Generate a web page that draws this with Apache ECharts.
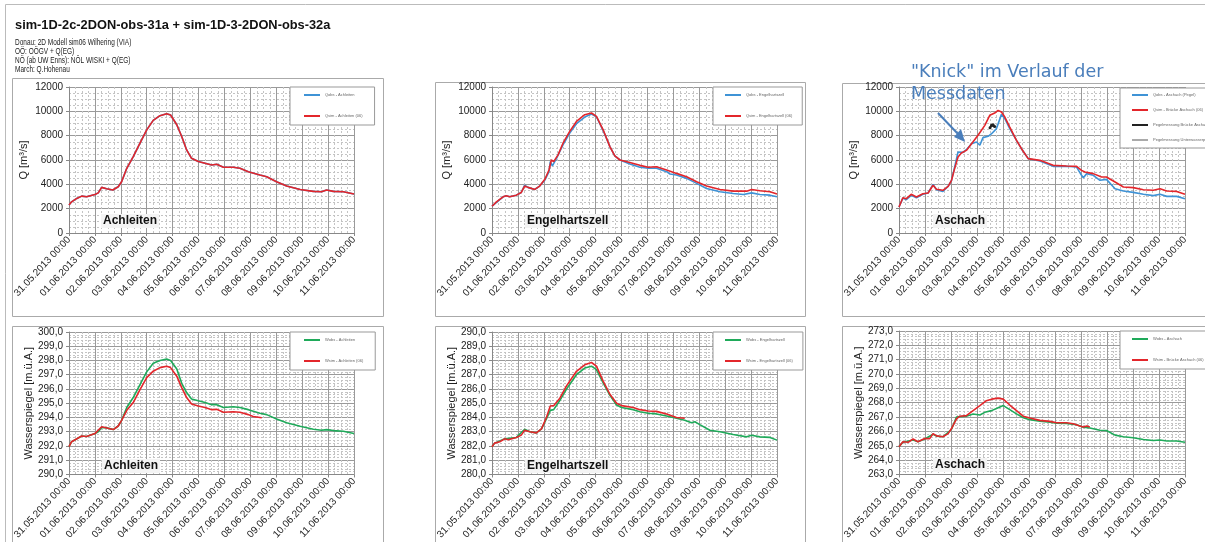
<!DOCTYPE html>
<html><head><meta charset="utf-8">
<script src="https://cdn.jsdelivr.net/npm/echarts@6/dist/echarts.min.js"></script>
<style>html,body{margin:0;padding:0;background:#fff}#c{width:1205px;height:542px}</style>
</head><body><div id="c"></div><script>
const titleText = 'sim-1D-2c-2DON-obs-31a + sim-1D-3-2DON-obs-32a';
const subtitleLines = ['Donau: 2D Modell sim06 Wilhering (VIA)','OÖ: OÖGV + Q(EG)','NÖ (ab UW Enns): NÖL WISKI + Q(EG)','March: Q.Hohenau'];
const dateLabels = ['31.05.2013 00:00','01.06.2013 00:00','02.06.2013 00:00','03.06.2013 00:00','04.06.2013 00:00','05.06.2013 00:00','06.06.2013 00:00','07.06.2013 00:00','08.06.2013 00:00','09.06.2013 00:00','10.06.2013 00:00','11.06.2013 00:00'];
const stations = ['Achleiten','Engelhartszell','Aschach','Achleiten','Engelhartszell','Aschach'];
const yMins = [0,0,0,290,280,263];
const yMaxs = [12000,12000,12000,300,290,273];
const yIntervals = [2000,2000,2000,1,1,1];

// x = days since 31.05.2013 00:00
const qAchleitenSim = [[0,2300],[0.10,2560],[0.30,2840],[0.49,3030],[0.68,2975],[1.0,3170],[1.13,3300],[1.26,3750],[1.45,3640],[1.69,3530],[1.90,3800],[2.03,4210],[2.23,5320],[2.48,6280],[2.74,7380],[3.0,8480],[3.25,9260],[3.51,9640],[3.77,9800],[3.92,9700],[4.16,8900],[4.35,7930],[4.54,6830],[4.73,6140],[4.99,5870],[5.25,5730],[5.51,5590],[5.70,5650],[5.96,5400],[6.34,5400],[6.60,5320],[6.92,5040],[7.37,4770],[7.63,4630],[8.01,4210],[8.40,3860],[8.92,3580],[9.43,3420],[9.75,3390],[9.94,3530],[10.20,3420],[10.59,3390],[11.0,3200]];
const qAchleitenObs = [[0,2300],[0.10,2560],[0.30,2840],[0.49,3030],[0.68,2975],[1.0,3170],[1.13,3300],[1.26,3750],[1.45,3640],[1.69,3530],[1.90,3800],[2.03,4210],[2.23,5320],[2.48,6280],[2.74,7380],[3.0,8480],[3.25,9260],[3.51,9640],[3.77,9800],[3.92,9700],[4.16,8900],[4.35,7930],[4.54,6830],[4.73,6140],[4.99,5870],[5.25,5730],[5.51,5590],[5.70,5650],[5.96,5400],[6.34,5400],[6.60,5320],[6.92,5040],[7.37,4770],[7.63,4630],[8.01,4210],[8.40,3860],[8.92,3580],[9.43,3420],[9.75,3390],[9.94,3530],[10.20,3420],[10.59,3390],[11.0,3200]];
const qEngelSim = [[0,2200],[0.17,2560],[0.43,2975],[0.55,3060],[0.68,2975],[0.94,3110],[1.13,3330],[1.26,3860],[1.39,3750],[1.65,3580],[1.84,3860],[2.04,4410],[2.20,5180],[2.29,6000],[2.38,5870],[2.55,6420],[2.74,7380],[3.0,8350],[3.26,9170],[3.58,9720],[3.84,9860],[4.03,9590],[4.29,8480],[4.55,7100],[4.74,6340],[4.94,6000],[5.32,5790],[5.71,5560],[6.03,5400],[6.35,5450],[6.74,5180],[7.12,4900],[7.51,4630],[7.90,4210],[8.28,3860],[8.80,3580],[9.31,3440],[9.83,3440],[10.02,3580],[10.34,3470],[10.73,3390],[11.0,3200]];
const qEngelObs = [[0,2200],[0.43,2975],[0.55,3060],[0.68,2975],[0.94,3110],[1.13,3330],[1.26,3940],[1.39,3750],[1.65,3580],[1.84,3860],[2.04,4350],[2.20,5050],[2.25,5870],[2.33,5510],[2.49,6140],[2.74,7240],[3.0,8210],[3.26,8980],[3.58,9530],[3.84,9780],[4.03,9560],[4.29,8420],[4.55,7100],[4.74,6340],[4.94,6000],[5.32,5670],[5.71,5400],[6.03,5320],[6.35,5320],[6.74,5040],[6.87,4850],[7.12,4770],[7.51,4490],[7.90,4080],[8.28,3660],[8.80,3390],[9.31,3250],[9.70,3170],[10.02,3300],[10.34,3170],[10.73,3110],[11.0,2975]];
const qAschachSim = [[0,2140],[0.15,2900],[0.28,2820],[0.47,3180],[0.67,2960],[0.92,3230],[1.12,3290],[1.31,3920],[1.44,3590],[1.69,3510],[1.89,3840],[2.02,4330],[2.14,5290],[2.27,6250],[2.40,6580],[2.59,6790],[2.79,7340],[3.04,8030],[3.30,8850],[3.49,9670],[3.68,9860],[3.81,10080],[3.94,9950],[4.07,9530],[4.26,8710],[4.52,7620],[4.71,6930],[4.97,6110],[5.42,5970],[5.93,5560],[6.44,5510],[6.83,5480],[7.02,5150],[7.15,5010],[7.47,4880],[7.79,4600],[7.98,4600],[8.31,4190],[8.63,3780],[9.01,3730],[9.40,3560],[9.78,3510],[10.04,3640],[10.30,3450],[10.68,3420],[11.0,3180]];
const qAschachObs = [[0,2140],[0.15,2870],[0.28,2740],[0.47,3100],[0.67,2900],[0.92,3180],[1.12,3290],[1.31,4000],[1.44,3560],[1.69,3420],[1.89,3840],[2.02,4330],[2.14,5420],[2.27,6660],[2.34,6790],[2.46,6630],[2.59,6850],[2.79,7340],[2.98,7480],[3.11,7210],[3.23,7840],[3.43,7950],[3.56,8160],[3.75,8580],[3.94,9750],[4.07,9400],[4.26,8580],[4.52,7620],[4.71,6930],[4.97,6110],[5.42,5920],[5.93,5480],[6.44,5480],[6.83,5420],[7.02,4740],[7.09,4550],[7.22,4880],[7.47,4740],[7.73,4330],[7.98,4410],[8.31,3640],[8.63,3450],[9.01,3340],[9.40,3180],[9.78,3070],[10.04,3180],[10.30,3010],[10.68,3010],[11.0,2820]];
const qAschachPegel = [[3.50,8650],[3.56,8850],[3.62,8900],[3.68,8750]];
const qAschachUW = [];
const wAchleitenObs = [[0,291.95],[0.10,292.3],[0.30,292.5],[0.49,292.7],[0.68,292.67],[1.0,292.87],[1.13,293.0],[1.26,293.3],[1.45,293.27],[1.71,293.15],[1.90,293.4],[2.03,293.8],[2.23,294.7],[2.48,295.4],[2.74,296.3],[3.0,297.2],[3.25,297.8],[3.51,298.0],[3.77,298.1],[3.92,298.0],[4.16,297.4],[4.35,296.4],[4.54,295.75],[4.73,295.3],[4.99,295.17],[5.25,295.05],[5.51,294.9],[5.70,294.9],[5.96,294.7],[6.34,294.75],[6.60,294.7],[6.92,294.55],[7.37,294.3],[7.63,294.2],[8.01,293.9],[8.40,293.63],[8.92,293.38],[9.43,293.17],[9.75,293.1],[9.94,293.15],[10.20,293.08],[10.59,293.03],[11.0,292.87]];
const wAchleitenSim = [[0,291.95],[0.10,292.3],[0.49,292.7],[0.68,292.67],[1.0,292.87],[1.26,293.35],[1.71,293.15],[1.90,293.4],[2.03,293.8],[2.23,294.5],[2.48,295.05],[2.74,295.95],[3.0,296.8],[3.25,297.25],[3.51,297.5],[3.77,297.6],[3.92,297.5],[4.16,296.9],[4.35,296.1],[4.54,295.4],[4.73,294.95],[4.99,294.8],[5.25,294.7],[5.51,294.55],[5.70,294.57],[5.96,294.37],[6.34,294.4],[6.60,294.37],[6.92,294.2],[7.11,294.07],[7.44,293.98]];
const wEngelObs = [[0,281.95],[0.10,282.2],[0.49,282.5],[0.94,282.6],[1.26,283.17],[1.46,283.0],[1.71,282.92],[1.91,283.2],[2.10,283.9],[2.25,284.5],[2.38,284.55],[2.61,285.17],[2.87,285.98],[3.26,287.0],[3.58,287.47],[3.84,287.6],[4.03,287.36],[4.29,286.43],[4.55,285.56],[4.81,284.87],[5.0,284.7],[5.45,284.55],[5.71,284.4],[6.03,284.3],[6.35,284.25],[6.74,284.1],[7.12,283.95],[7.44,283.8],[7.70,283.63],[7.83,283.7],[8.02,283.5],[8.41,283.1],[8.80,283.0],[9.31,282.8],[9.83,282.64],[10.02,282.75],[10.34,282.64],[10.73,282.6],[11.0,282.41]];
const wEngelSim = [[0,281.95],[0.10,282.2],[0.30,282.3],[0.49,282.5],[0.62,282.43],[0.94,282.6],[1.13,282.76],[1.26,283.1],[1.46,283.0],[1.71,282.92],[1.91,283.2],[2.10,284.0],[2.25,284.8],[2.38,284.83],[2.61,285.33],[2.87,286.2],[3.26,287.24],[3.58,287.7],[3.84,287.86],[4.03,287.6],[4.29,286.55],[4.55,285.63],[4.81,285.0],[5.0,284.83],[5.45,284.7],[5.71,284.55],[6.03,284.45],[6.35,284.43],[6.74,284.25],[7.12,284.0],[7.44,283.95]];
const wAschachObs = [[0,264.94],[0.15,265.24],[0.54,265.4],[0.73,265.28],[0.99,265.47],[1.31,265.8],[1.44,265.67],[1.69,265.63],[2.02,266.15],[2.21,267.0],[2.34,267.03],[2.59,267.06],[2.85,267.22],[3.11,267.15],[3.30,267.33],[3.56,267.45],[3.75,267.6],[4.01,267.8],[4.26,267.52],[4.52,267.22],[4.78,266.95],[5.03,266.82],[5.42,266.72],[5.80,266.65],[6.06,266.58],[6.44,266.56],[6.83,266.47],[7.09,266.29],[7.34,266.24],[7.73,266.08],[7.98,266.06],[8.31,265.74],[8.63,265.63],[9.01,265.56],[9.40,265.44],[9.78,265.37],[10.04,265.4],[10.30,265.33],[10.68,265.33],[11.0,265.24]];
const wAschachSim = [[0,264.94],[0.15,265.28],[0.35,265.24],[0.54,265.47],[0.73,265.28],[0.99,265.5],[1.18,265.5],[1.31,265.85],[1.44,265.69],[1.69,265.63],[1.89,265.85],[2.02,266.2],[2.21,266.88],[2.34,267.06],[2.59,267.1],[2.85,267.45],[3.11,267.8],[3.36,268.14],[3.56,268.25],[3.81,268.32],[4.01,268.25],[4.26,267.84],[4.52,267.45],[4.78,267.06],[5.03,266.93],[5.42,266.77],[5.80,266.7],[6.06,266.6],[6.44,266.6],[6.70,266.54],[6.96,266.38],[7.09,266.31],[7.22,266.38],[7.34,266.31]];

const BLUE = '#3f93d6', RED = '#e3262b', GREEN = '#1faa5a';
const FONT = 'Liberation Sans';

const gridPos = [
  {left:69, top:87, width:285, height:146},
  {left:492, top:87, width:285, height:146},
  {left:899, top:87, width:286, height:146},
  {left:69, top:332, width:285, height:145},
  {left:492, top:332, width:285, height:145},
  {left:899, top:331, width:286, height:146}
];

const xAxes = gridPos.map((g,i)=>({
  type:'value', gridIndex:i, min:0, max:11, interval:1,
  axisLine:{lineStyle:{color:'#888'}},
  axisTick:{show:true, length:3, lineStyle:{color:'#888'}},
  axisLabel:{rotate:47, fontSize:10, fontFamily:FONT, color:'#222', margin:5,
    formatter:v=>dateLabels[Math.round(v)]},
  splitLine:{show:true, lineStyle:{color:'#9a9a9a', width:1}},
  minorTick:{show:false, splitNumber:4},
  minorSplitLine:{show:true, lineStyle:{color:'#c4c4c4', type:[2,2], width:1}}
}));

const yAxes = gridPos.map((g,i)=>({
  type:'value', gridIndex:i, min:yMins[i], max:yMaxs[i], interval:yIntervals[i],
  name: i<3 ? 'Q [m³/s]' : 'Wasserspiegel [m.ü.A.]',
  nameLocation:'middle', nameGap: i<3 ? 40 : 35,
  nameTextStyle:{fontSize:11, fontFamily:FONT, color:'#222'},
  axisLine:{show:true, lineStyle:{color:'#888'}},
  axisTick:{show:true, length:3, lineStyle:{color:'#888'}},
  axisLabel:{fontSize:10, fontFamily:FONT, color:'#222', margin:6,
    formatter: i<3 ? (v=>String(v)) : (v=>v.toFixed(1).replace('.',','))},
  splitLine:{show:true, lineStyle:{color:'#9a9a9a', width:1}},
  minorTick:{show:false, splitNumber: i<3 ? 4 : 5},
  minorSplitLine:{show:true, lineStyle:{color:'#c4c4c4', type:[2,2], width:1}}
}));

function line(name, data, idx, color, width){
  return {name, type:'line', xAxisIndex:idx, yAxisIndex:idx, data,
    symbol:'none', showSymbol:false, animation:false,
    lineStyle:{color, width: width||1.6}, itemStyle:{color}, z:3};
}

const series = [
  line('Qobs - Achleiten', qAchleitenObs, 0, BLUE),
  line('Qsim - Achleiten (06)', qAchleitenSim, 0, RED),
  line('Qobs - Engelhartszell', qEngelObs, 1, BLUE),
  line('Qsim - Engelhartszell (06)', qEngelSim, 1, RED),
  line('Qobs - Aschach (Pegel)', qAschachObs, 2, BLUE),
  line('Qsim - Brücke Aschach (06)', qAschachSim, 2, RED),
  Object.assign(line('Pegelmessung Brücke Aschach', qAschachPegel, 2, '#222', 2), {symbol:'circle', symbolSize:3, showSymbol:true}),
  line('Pegelmessung Unterwasserpegel (V. 05)', qAschachUW, 2, '#aaaaaa', 1),
  line('Wobs - Achleiten', wAchleitenObs, 3, GREEN),
  line('Wsim - Achleiten (06)', wAchleitenSim, 3, RED),
  line('Wobs - Engelhartszell', wEngelObs, 4, GREEN),
  line('Wsim - Engelhartszell (06)', wEngelSim, 4, RED),
  line('Wobs - Aschach', wAschachObs, 5, GREEN),
  line('Wsim - Brücke Aschach (06)', wAschachSim, 5, RED)
];

const legendColors = {
  'Qobs - Achleiten':BLUE,'Qsim - Achleiten (06)':RED,'Qobs - Engelhartszell':BLUE,'Qsim - Engelhartszell (06)':RED,
  'Qobs - Aschach (Pegel)':BLUE,'Qsim - Brücke Aschach (06)':RED,'Pegelmessung Brücke Aschach':'#222','Pegelmessung Unterwasserpegel (V. 05)':'#aaaaaa',
  'Wobs - Achleiten':GREEN,'Wsim - Achleiten (06)':RED,'Wobs - Engelhartszell':GREEN,'Wsim - Engelhartszell (06)':RED,
  'Wobs - Aschach':GREEN,'Wsim - Brücke Aschach (06)':RED
};

function legend(names, left, top, gap, pad){
  return {data:names.map(n=>({name:n, icon:'rect', itemStyle:{color:legendColors[n]}})),
    left, top, orient:'vertical', itemGap:gap, itemWidth:16, itemHeight:2,
    padding:pad, selectedMode:false, backgroundColor:'#fff', borderColor:'#999', borderWidth:1,
    textStyle:{fontSize:4, color:'#666', fontFamily:FONT}, z:10};
}

const legends = [
  legend(['Qobs - Achleiten','Qsim - Achleiten (06)'], 290, 87, 17, [6,12,7,14]),
  legend(['Qobs - Engelhartszell','Qsim - Engelhartszell (06)'], 713, 87, 17, [6,10,7,12]),
  legend(['Qobs - Aschach (Pegel)','Qsim - Brücke Aschach (06)','Pegelmessung Brücke Aschach','Pegelmessung Unterwasserpegel (V. 05)'], 1120, 88, 11, [5,6,6,12]),
  legend(['Wobs - Achleiten','Wsim - Achleiten (06)'], 290, 332, 17, [6,12,7,14]),
  legend(['Wobs - Engelhartszell','Wsim - Engelhartszell (06)'], 713, 332, 17, [6,10,7,12]),
  legend(['Wobs - Aschach','Wsim - Brücke Aschach (06)'], 1120, 331, 17, [6,10,7,12])
];

const labelPos = [[101,222],[525,222],[933,222],[102,467],[525,467],[933,466]];
const frames = [[12,78,371,238],[435,82,370,234],[842,83,380,233],[12,326,371,230],[435,326,370,230],[842,326,380,230]];
const subY = [43,52,61,69.5];

const graphics = [
  {type:'rect', shape:{x:5.5,y:4.5,width:1210,height:600}, style:{fill:'none', stroke:'#bbb', lineWidth:1}, z:-10, silent:true},
  ...frames.map(f=>({type:'rect', shape:{x:f[0]+0.5,y:f[1]+0.5,width:f[2],height:f[3]}, style:{fill:'none', stroke:'#aaa', lineWidth:1}, z:-10, silent:true})),
  {type:'text', x:15, y:25, scaleX:0.95, originX:0, z:60,
    style:{text:titleText, font:'bold 13.5px "Liberation Sans"', fill:'#111', textVerticalAlign:'middle'}},
  ...subtitleLines.map((t,i)=>({type:'text', x:15, y:subY[i], scaleX:0.72, originX:0, z:60,
    style:{text:t, font:'9px "Liberation Sans"', fill:'#222', textVerticalAlign:'middle'}})),
  ...labelPos.map((p,i)=>({type:'text', left:p[0], top:p[1]-8, z:50,
    style:{text:stations[i], font:'bold 12px "Liberation Sans"', fill:'#111', backgroundColor:'#f4f4f4', padding:[1,2,1,2]}})),
  {type:'text', left:911, top:63, z:60, style:{text:'"Knick" im Verlauf der', font:'17.5px "DejaVu Sans"', fill:'#4a7ebb'}},
  {type:'text', left:911, top:85, z:60, style:{text:'Messdaten', font:'17.5px "DejaVu Sans"', fill:'#4a7ebb'}},
  {type:'line', shape:{x1:938,y1:113,x2:959,y2:135}, style:{stroke:'#4a7ebb', lineWidth:2}, z:60},
  {type:'polygon', shape:{points:[[965,142],[954,137],[961,129]]}, style:{fill:'#4a7ebb'}, z:60}
];

const chart = echarts.init(document.getElementById('c'), null, {renderer:'canvas'});
chart.setOption({
  animation:false,
  backgroundColor:'#fff',
  textStyle:{fontFamily:FONT},
  grid: gridPos,
  xAxis: xAxes,
  yAxis: yAxes,
  legend: legends,
  series,
  graphic: graphics
});
</script></body></html>
